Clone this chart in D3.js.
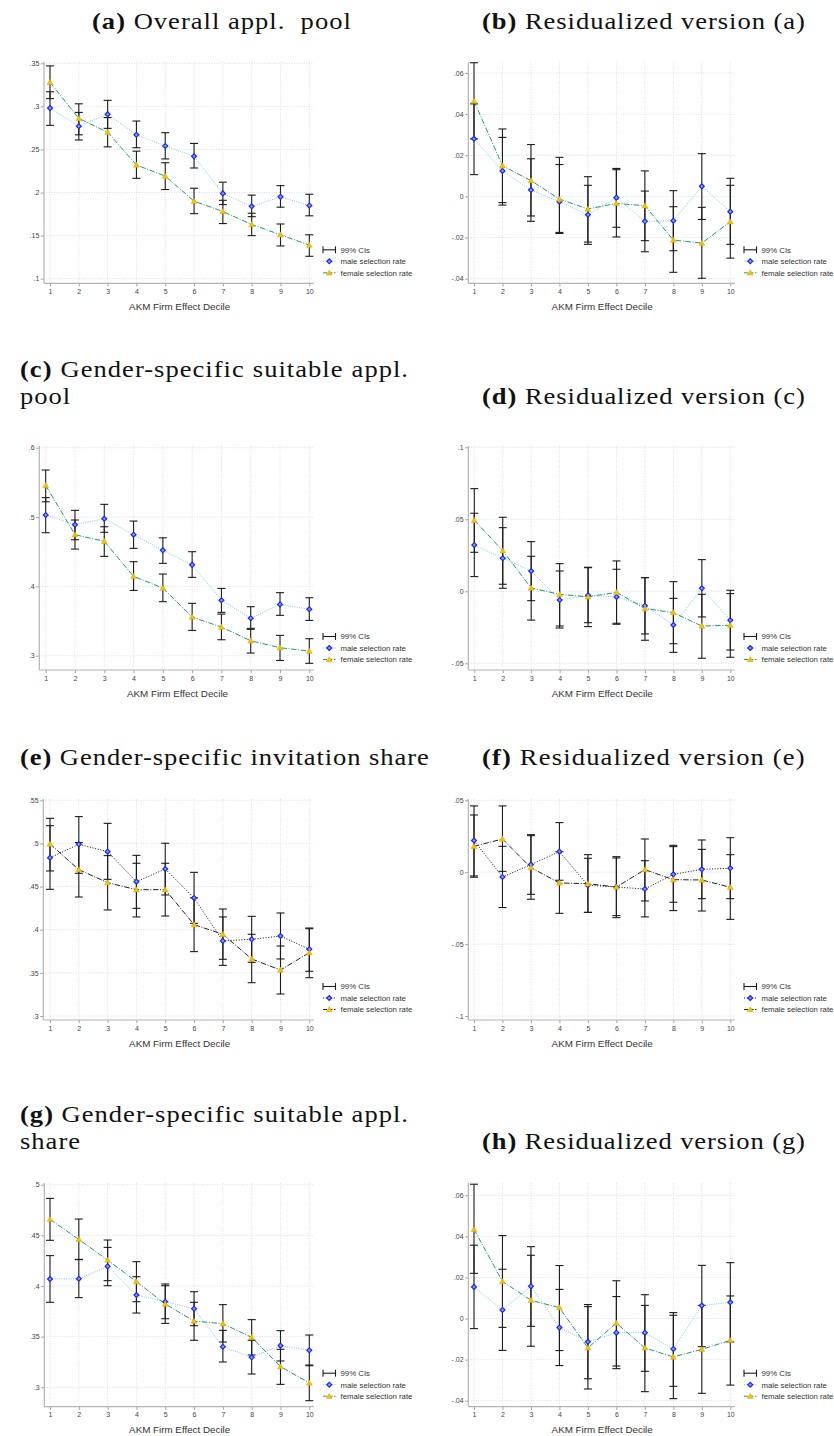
<!DOCTYPE html>
<html>
<head>
<meta charset="utf-8">
<script src="https://cdnjs.cloudflare.com/ajax/libs/d3/7.8.5/d3.min.js"></script>
<style>
  body { margin: 0; background: #fff; }
  text { white-space: pre; }
</style>
</head>
<body>
<script>

var deciles = [1, 2, 3, 4, 5, 6, 7, 8, 9, 10];
var legendLabels = ["99% CIs", "male selection rate", "female selection rate"];
var xTitle = "AKM Firm Effect Decile";

// (a) overall applicant pool
var aTicks = [.1, .15, .2, .25, .3, .35];
var aMale = [.298, .277, .291, .267, .254, .242, .199, .184, .195, .185];
var aMaleCI = [[.278, .317], [.261, .293], [.2745, .307], [.252, .283], [.239, .2695], [.2285, .257], [.186, .212], [.172, .197], [.183, .208], [.173, .198]];
var aFemale = [.328, .286, .270, .232, .219, .190, .178, .163, .151, .139];
var aFemaleCI = [[.309, .347], [.267, .303], [.253, .287], [.2165, .248], [.2035, .2346], [.1755, .205], [.164, .191], [.150, .176], [.138, .1635], [.126, .151]];

// (b) residualized (a)
var bTicks = [-.04, -.02, 0, .02, .04, .06];
var bMale = [.028, .0124, .0031, -.0026, -.0089, -.0006, -.0121, -.0118, .0049, -.0074];
var bMaleCI = [[.0106, .045], [-.0042, .0287], [-.0121, .0183], [-.018, .0155], [-.0233, .0054], [-.015, .0136], [-.0269, .0026], [-.0264, .0028], [-.0112, .0208], [-.0233, .0088]];
var bFemale = [.0464, .0149, .0077, -.0013, -.0061, -.0034, -.0045, -.0212, -.0227, -.0123];
var bFemaleCI = [[.028, .065], [-.003, .0328], [-.0095, .0252], [-.0175, .019], [-.0222, .0096], [-.0197, .013], [-.0215, .0124], [-.0369, -.005], [-.0398, -.0053], [-.030, .0054]];

// (c) gender-specific suitable applicant pool
var cTicks = [.3, .4, .5, .6];
var cMale = [.503, .489, .4975, .4745, .452, .431, .380, .354, .374, .367];
var cMaleCI = [[.4774, .528], [.4673, .5096], [.478, .5183], [.4548, .4942], [.4332, .47], [.413, .45], [.3625, .397], [.3395, .3707], [.3582, .3909], [.3509, .3836]];
var cFemale = [.5457, .4745, .465, .4144, .3976, .3558, .3413, .3216, .3115, .3067];
var cFemaleCI = [[.522, .5678], [.4538, .4957], [.4433, .486], [.3942, .4356], [.3779, .4178], [.3365, .3755], [.323, .36], [.3038, .338], [.2931, .3293], [.289, .3245]];

// (d) residualized (c)
var dTicks = [-.05, 0, .05, .1];
var dMale = [.0322, .0229, .0141, -.006, -.0028, -.0039, -.010, -.0234, .0021, -.0201];
var dMaleCI = [[.0102, .0542], [.0021, .0442], [-.0065, .0345], [-.0255, .0141], [-.0218, .0164], [-.0229, .0153], [-.0296, .0095], [-.0424, -.0049], [-.0178, .022], [-.0408, .0007]];
var dFemale = [.0493, .0282, .0023, -.0021, -.0039, -.0007, -.012, -.0148, -.0241, -.0236];
var dFemaleCI = [[.0271, .0713], [.0049, .0514], [-.020, .0243], [-.0241, .0192], [-.0245, .0167], [-.0222, .0211], [-.034, .0095], [-.0364, .0067], [-.0465, -.0021], [-.0458, -.0016]];

// (e) gender-specific invitation share
var eTicks = [.3, .35, .4, .45, .5, .55];
var eMale = [.4835, .499, .4905, .4557, .4704, .4368, .387, .3889, .3927, .3773];
var eMaleCI = [[.4468, .5206], [.4654, .5311], [.4584, .5233], [.4248, .4862], [.4403, .5002], [.4074, .4665], [.3587, .4148], [.3622, .4155], [.3661, .4194], [.3518, .402]];
var eFemale = [.4994, .4696, .4546, .4464, .4464, .4059, .3947, .3661, .3533, .3734];
var eFemaleCI = [[.4681, .5291], [.4379, .501], [.4229, .4859], [.4148, .477], [.4159, .477], [.3746, .437], [.3657, .424], [.3386, .3947], [.3255, .3811], [.3444, .4012]];

// (f) residualized (e)
var fTicks = [-.1, -.05, 0, .05];
var fMale = [.022, -.0033, .0053, .0143, -.0091, -.0103, -.0117, -.0015, .002, .0027];
var fMaleCI = [[-.0026, .0461], [-.0246, .018], [-.0154, .0261], [-.0056, .0345], [-.0279, .0097], [-.0302, .0099], [-.0311, .008], [-.0209, .0178], [-.0184, .0224], [-.0184, .024]];
var fFemale = [.018, .0231, .0032, -.0075, -.008, -.0103, .0018, -.0052, -.0054, -.0105];
var fFemaleCI = [[-.0035, .0398], [.0006, .0461], [-.0188, .0254], [-.0286, .0143], [-.028, .0122], [-.0316, .0108], [-.02, .0231], [-.0267, .0187], [-.027, .0159], [-.0328, .0122]];

// (g) gender-specific suitable applicant share
var gTicks = [.3, .35, .4, .45, .5];
var gMale = [.4069, .4072, .4194, .3911, .3845, .3776, .3401, .3296, .3411, .3365];
var gMaleCI = [[.3839, .43], [.3885, .4263], [.4003, .4381], [.3733, .4092], [.3677, .402], [.3608, .3944], [.325, .3562], [.3131, .3464], [.326, .3559], [.3213, .3516]];
var gFemale = [.4658, .446, .4256, .4043, .3822, .3654, .3628, .3493, .3204, .3043];
var gFemaleCI = [[.4451, .4865], [.426, .4661], [.4053, .4454], [.3845, .424], [.3631, .4003], [.3464, .3839], [.3447, .3816], [.3319, .3668], [.3029, .3375], [.2868, .322]];

// (h) residualized (g)
var hTicks = [-.04, -.02, 0, .02, .04, .06];
var hMale = [.0154, .0042, .0157, -.0044, -.0113, -.0069, -.0069, -.0148, .0063, .0079];
var hMaleCI = [[-.0049, .0357], [-.0155, .024], [-.0038, .035], [-.0229, .0142], [-.0293, .0068], [-.0244, .0107], [-.0257, .0116], [-.033, .0029], [-.0137, .0259], [-.0114, .0272]];
var hFemale = [.0434, .0181, .0089, .0053, -.0143, -.0022, -.0143, -.0187, -.015, -.0106];
var hFemaleCI = [[.022, .0654], [-.0043, .0404], [-.0135, .0308], [-.0156, .0258], [-.0343, .0058], [-.0231, .0184], [-.0356, .0064], [-.039, .0016], [-.0364, .0064], [-.0324, .011]];

var serif = "'Liberation Serif', 'Times New Roman', serif";
var sans = "'Liberation Sans', Arial, sans-serif";

var panels = [
  { male: aMale, maleCI: aMaleCI, female: aFemale, femaleCI: aFemaleCI, ticks: aTicks,
    axisX: 44, x1: 50, x10: 309.3, top: 61.7, bottom: 283.3, yLo: 278.7, yHi: 63.3, mono: false },
  { male: bMale, maleCI: bMaleCI, female: bFemale, femaleCI: bFemaleCI, ticks: bTicks,
    axisX: 468.3, x1: 474, x10: 730.3, top: 62, bottom: 283.3, yLo: 278.7, yHi: 73, mono: false },
  { male: cMale, maleCI: cMaleCI, female: cFemale, femaleCI: cFemaleCI, ticks: cTicks,
    axisX: 39.3, x1: 45.7, x10: 309.3, top: 446, bottom: 670, yLo: 655.7, yHi: 447.7, mono: false },
  { male: dMale, maleCI: dMaleCI, female: dFemale, femaleCI: dFemaleCI, ticks: dTicks,
    axisX: 468.3, x1: 474.3, x10: 730.3, top: 446, bottom: 670, yLo: 663.3, yHi: 447.3, mono: false },
  { male: eMale, maleCI: eMaleCI, female: eFemale, femaleCI: eFemaleCI, ticks: eTicks,
    axisX: 43.3, x1: 50, x10: 309.3, top: 799, bottom: 1020, yLo: 1016, yHi: 800.3, mono: true },
  { male: fMale, maleCI: fMaleCI, female: fFemale, femaleCI: fFemaleCI, ticks: fTicks,
    axisX: 468.3, x1: 474, x10: 730.3, top: 799, bottom: 1020, yLo: 1016, yHi: 800.3, mono: true },
  { male: gMale, maleCI: gMaleCI, female: gFemale, femaleCI: gFemaleCI, ticks: gTicks,
    axisX: 44.3, x1: 50, x10: 309.3, top: 1183, bottom: 1406.7, yLo: 1387.3, yHi: 1184.7, mono: false },
  { male: hMale, maleCI: hMaleCI, female: hFemale, femaleCI: hFemaleCI, ticks: hTicks,
    axisX: 468.3, x1: 474, x10: 730.3, top: 1183, bottom: 1406.7, yLo: 1400.7, yHi: 1195.3, mono: false }
];

var titles = [
  { label: "(a)", text: "Overall appl.  pool", x0: 92, x1: 352, y: 29 },
  { label: "(b)", text: "Residualized version (a)", x0: 482, x1: 806, y: 29 },
  { label: "(c)", words: ["Gender-specific", "suitable", "appl."], line2: "pool", x0: 20, x1: 409, y: 377 },
  { label: "(d)", text: "Residualized version (c)", x0: 482, x1: 806, y: 404 },
  { label: "(e)", text: "Gender-specific invitation share", x0: 20, x1: 430, y: 765 },
  { label: "(f)", text: "Residualized version (e)", x0: 482, x1: 806, y: 765 },
  { label: "(g)", words: ["Gender-specific", "suitable", "appl."], line2: "share", x0: 20, x1: 409, y: 1122 },
  { label: "(h)", text: "Residualized version (g)", x0: 482, x1: 806, y: 1149 }
];

var svg = d3.select("body").append("svg")
            .attr("width", 834)
            .attr("height", 1436);

var fmt = function(v) {
  var s = String(+v.toFixed(4));
  return s.replace(/^(-?)0\./, "$1.");
};

var diamond = d3.symbol().type(d3.symbolSquare).size(12);
var triangle = d3.symbol().type(d3.symbolTriangle).size(15);
var maleFill = "#8a9cff", maleEdge = "#1a28f0";
var femaleFill = "#f3c300", femaleEdge = "#d9a800";

var drawPanel = function(p) {
  var g = svg.append("g");
  var right = p.x10 + 4.5;
  var x = d3.scaleLinear().domain([1, 10]).range([p.x1, p.x10]);
  var y = d3.scaleLinear().domain([p.ticks[0], p.ticks[p.ticks.length - 1]]).range([p.yLo, p.yHi]);

  var maleLine = p.mono ? "#222" : "#7cc8f0";
  var femaleLine = p.mono ? "#222" : "#1e9a72";
  var maleDash = p.mono ? "1.1,1.6" : "1,1.3";
  var femaleDash = "5.5,1.6,1,1.6";

  // grid
  g.selectAll(".hgrid").data(p.ticks).enter().append("line")
   .attr("x1", p.axisX).attr("x2", right)
   .attr("y1", function(d) { return y(d); }).attr("y2", function(d) { return y(d); })
   .attr("stroke", "#d6d6d6").attr("stroke-width", 0.8).attr("stroke-dasharray", "1,1.5");
  g.selectAll(".vgrid").data(deciles).enter().append("line")
   .attr("x1", function(d) { return x(d); }).attr("x2", function(d) { return x(d); })
   .attr("y1", p.top).attr("y2", p.bottom)
   .attr("stroke", "#d6d6d6").attr("stroke-width", 0.8).attr("stroke-dasharray", "1,1.5");

  // axes
  var ya = g.append("g").attr("transform", "translate(" + p.axisX + ",0)")
            .call(d3.axisLeft(y).tickValues(p.ticks).tickFormat(fmt).tickSizeOuter(0).tickSize(3.2).tickPadding(1.5));
  var xa = g.append("g").attr("transform", "translate(0," + p.bottom + ")")
            .call(d3.axisBottom(x).tickValues(deciles).tickFormat(d3.format("d")).tickSizeOuter(0).tickSize(3.2).tickPadding(2.5));
  [ya, xa].forEach(function(a) {
    a.select(".domain").remove();
    a.selectAll(".tick line").attr("stroke", "#9a9a9a").attr("stroke-width", 0.9);
    a.selectAll(".tick text").attr("font-family", sans).attr("font-size", 7).attr("fill", "#444");
  });
  g.append("line").attr("x1", p.axisX).attr("x2", p.axisX).attr("y1", p.top).attr("y2", p.bottom)
   .attr("stroke", "#b4b4b4").attr("stroke-width", 1.2);
  g.append("line").attr("x1", p.axisX).attr("x2", right).attr("y1", p.bottom).attr("y2", p.bottom)
   .attr("stroke", "#b4b4b4").attr("stroke-width", 1.2);

  g.append("text").attr("x", (p.x1 + p.x10) / 2).attr("y", p.bottom + 26.5)
   .attr("text-anchor", "middle").attr("font-family", sans).attr("font-size", 9.8).attr("fill", "#333")
   .text(xTitle);

  // confidence intervals
  [p.maleCI, p.femaleCI].forEach(function(ci) {
    var c = g.append("g").attr("stroke", "#1c1c1c").attr("stroke-width", 1.1).attr("fill", "none");
    c.selectAll(".bar").data(ci).enter().append("line")
     .attr("x1", function(d, i) { return x(deciles[i]); }).attr("x2", function(d, i) { return x(deciles[i]); })
     .attr("y1", function(d) { return y(d[0]); }).attr("y2", function(d) { return y(d[1]); });
    [0, 1].forEach(function(k) {
      c.selectAll(".cap" + k).data(ci).enter().append("line")
       .attr("x1", function(d, i) { return x(deciles[i]) - 4; }).attr("x2", function(d, i) { return x(deciles[i]) + 4; })
       .attr("y1", function(d) { return y(d[k]); }).attr("y2", function(d) { return y(d[k]); });
    });
  });

  // connecting lines
  var line = d3.line().x(function(d, i) { return x(deciles[i]); }).y(function(d) { return y(d); });
  g.append("path").datum(p.male).attr("d", line).attr("fill", "none")
   .attr("stroke", maleLine).attr("stroke-width", 1).attr("stroke-dasharray", maleDash);
  g.append("path").datum(p.female).attr("d", line).attr("fill", "none")
   .attr("stroke", femaleLine).attr("stroke-width", 1).attr("stroke-dasharray", femaleDash);

  // markers
  g.selectAll(".mm").data(p.male).enter().append("path").attr("d", diamond)
   .attr("transform", function(d, i) { return "translate(" + x(deciles[i]) + "," + y(d) + ") rotate(45)"; })
   .attr("fill", maleFill).attr("stroke", maleEdge).attr("stroke-width", 1.2);
  g.selectAll(".fm").data(p.female).enter().append("path").attr("d", triangle)
   .attr("transform", function(d, i) { return "translate(" + x(deciles[i]) + "," + (y(d) + 0.5) + ")"; })
   .attr("fill", femaleFill).attr("stroke", femaleEdge).attr("stroke-width", 0.5);

  // legend
  var lx = p.x10 + 13.7;
  var rows = [p.bottom - 33.5, p.bottom - 22, p.bottom - 10.5];
  var lg = g.append("g");
  lg.append("line").attr("x1", lx).attr("x2", lx + 12.5).attr("y1", rows[0]).attr("y2", rows[0])
    .attr("stroke", "#1c1c1c").attr("stroke-width", 1.1);
  [lx, lx + 12.5].forEach(function(cx) {
    lg.append("line").attr("x1", cx).attr("x2", cx).attr("y1", rows[0] - 3.5).attr("y2", rows[0] + 3.5)
      .attr("stroke", "#1c1c1c").attr("stroke-width", 1.1);
  });
  lg.append("line").attr("x1", lx).attr("x2", lx + 12.5).attr("y1", rows[1]).attr("y2", rows[1])
    .attr("stroke", maleLine).attr("stroke-width", 1).attr("stroke-dasharray", maleDash);
  lg.append("path").attr("d", diamond).attr("transform", "translate(" + (lx + 6.25) + "," + rows[1] + ") rotate(45)")
    .attr("fill", maleFill).attr("stroke", maleEdge).attr("stroke-width", 1.2);
  lg.append("line").attr("x1", lx).attr("x2", lx + 12.5).attr("y1", rows[2]).attr("y2", rows[2])
    .attr("stroke", femaleLine).attr("stroke-width", 1).attr("stroke-dasharray", "4,1.5");
  lg.append("path").attr("d", triangle).attr("transform", "translate(" + (lx + 6.25) + "," + (rows[2] + 0.5) + ")")
    .attr("fill", femaleFill).attr("stroke", femaleEdge).attr("stroke-width", 0.5);
  lg.selectAll(".lt").data(legendLabels).enter().append("text")
    .attr("x", lx + 17.5).attr("y", function(d, i) { return rows[i] + 2.8; })
    .attr("font-family", sans).attr("font-size", 7.8).attr("fill", "#333")
    .text(function(d) { return d; });
};

panels.forEach(drawPanel);

// titles: horizontal stretch, rest of the width taken up by letter spacing
var stretch = 1.18;
var spacing = 0;
var titleText = function() {
  return svg.append("text").attr("font-family", serif).attr("font-size", 22.5).attr("fill", "#111");
};
var singleTitle = function(t) {
  var el = titleText();
  el.append("tspan").attr("font-weight", "bold").text(t.label);
  el.append("tspan").text(" " + t.text);
  var w = el.node().getComputedTextLength();
  var n = (t.label + " " + t.text).length;
  var ls = Math.max(0, ((t.x1 - t.x0) / stretch - w) / n);
  el.attr("letter-spacing", ls)
    .attr("transform", "translate(" + t.x0 + "," + t.y + ") scale(" + stretch + ",1)");
  return ls;
};
var justTitle = function(t) {
  var words = [t.label].concat(t.words);
  var nodes = words.map(function(w, i) {
    return titleText().attr("font-weight", i === 0 ? "bold" : "normal").attr("letter-spacing", spacing).text(w);
  });
  var widths = nodes.map(function(n) { return n.node().getComputedTextLength() * stretch; });
  var gap = (t.x1 - t.x0 - d3.sum(widths)) / (words.length - 1);
  var cx = t.x0;
  nodes.forEach(function(n, i) {
    n.attr("transform", "translate(" + cx + "," + t.y + ") scale(" + stretch + ",1)");
    cx += widths[i] + gap;
  });
  titleText().attr("letter-spacing", spacing)
     .attr("transform", "translate(" + t.x0 + "," + (t.y + 27) + ") scale(" + stretch + ",1)")
     .text(t.line2);
};

spacing = singleTitle(titles[0]);
titles.slice(1).forEach(function(t) {
  if (t.words) { justTitle(t); } else { singleTitle(t); }
});

</script>
</body>
</html>
